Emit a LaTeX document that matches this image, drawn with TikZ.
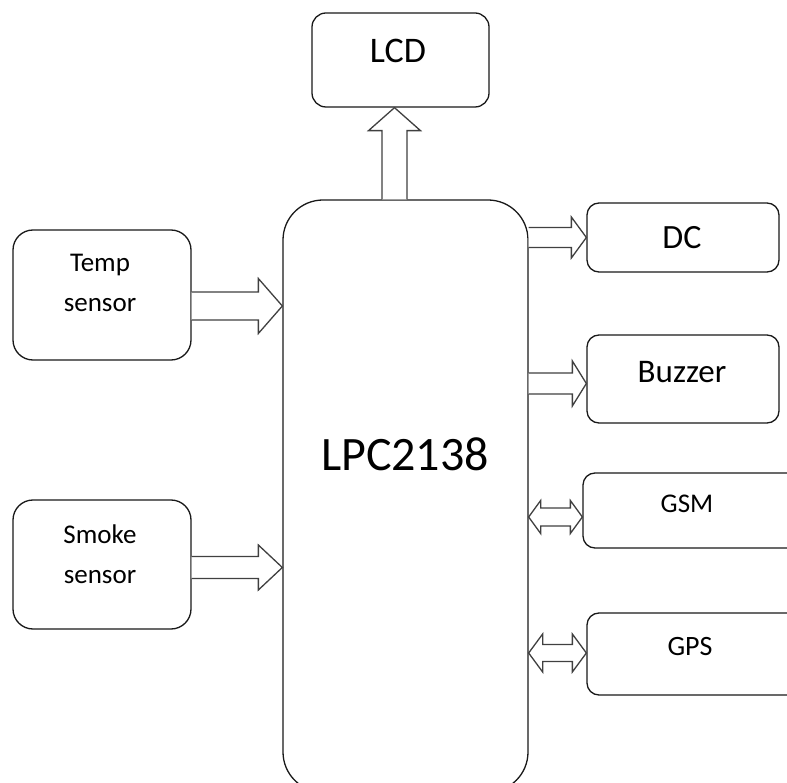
\documentclass[tikz,border=0pt]{standalone}
\usepackage{fontspec}
\setmainfont{Carlito}
\usetikzlibrary{calc}
\tikzset{
  box/.style={draw=black!90, line width=1.3pt, rectangle, inner sep=0pt},
  blk/.style={draw=black!75, line width=1.3pt, line join=miter, fill=white},
  txt/.style={inner sep=0pt, anchor=base, text=black},
}
\newcommand\fs[1]{\fontsize{#1}{#1}\selectfont}
% right block arrow: start, tip, shaft half, head half, head length
\newcommand\blkR[5]{\draw[blk] ($(#1)+(0,-#3)$) -- ($(#2)+(-#5,-#3)$) -- ($(#2)+(-#5,-#4)$) -- (#2) -- ($(#2)+(-#5,#4)$) -- ($(#2)+(-#5,#3)$) -- ($(#1)+(0,#3)$);}
% up block arrow (y axis points down)
\newcommand\blkU[5]{\draw[blk] ($(#1)+(-#3,0)$) -- ($(#2)+(-#3,#5)$) -- ($(#2)+(-#4,#5)$) -- (#2) -- ($(#2)+(#4,#5)$) -- ($(#2)+(#3,#5)$) -- ($(#1)+(#3,0)$);}
% double block arrow: left tip, right tip, shaft half, head half, head length
\newcommand\blkLR[5]{\draw[blk] (#1) -- ($(#1)+(#5,-#4)$) -- ($(#1)+(#5,-#3)$) -- ($(#2)+(-#5,-#3)$) -- ($(#2)+(-#5,-#4)$) -- (#2) -- ($(#2)+(-#5,#4)$) -- ($(#2)+(-#5,#3)$) -- ($(#1)+(#5,#3)$) -- ($(#1)+(#5,#4)$) -- cycle;}
\begin{document}
\begin{tikzpicture}[x=1pt,y=-1pt]
\useasboundingbox (0,0) rectangle (787,783);
% boxes
\node[box, rounded corners=14pt, minimum width=177pt, minimum height=94pt] (lcd) at (400.5,60) {};
\node[box, rounded corners=40pt, minimum width=245pt, minimum height=592pt] (main) at (405.5,496) {};
\node[box, rounded corners=20pt, minimum width=178pt, minimum height=130pt] (temp) at (102,295) {};
\node[box, rounded corners=20pt, minimum width=178pt, minimum height=129pt] (smoke) at (102,564.5) {};
\node[box, rounded corners=12pt, minimum width=192pt, minimum height=69pt] (dc) at (683,237.5) {};
\node[box, rounded corners=12pt, minimum width=192pt, minimum height=88pt] (buz) at (683,379) {};
\node[box, rounded corners=12pt, minimum width=217pt, minimum height=75pt] (gsm) at (691.5,510.5) {};
\node[box, rounded corners=12pt, minimum width=213pt, minimum height=82pt] (gps) at (693.5,654) {};
% texts
\node[txt, font=\fs{36}] (lcdt) at (398,63) {LCD};
\node[txt, font=\fs{48}] (maint) at (405,470) {LPC2138};
\node[txt, font=\fs{27}] (tempt1) at (100,272) {Temp};
\node[txt, font=\fs{27}] (tempt2) at (100,312) {sensor};
\node[txt, font=\fs{27}] (smoket1) at (100,543) {Smoke};
\node[txt, font=\fs{27}] (smoket2) at (100,583) {sensor};
\node[txt, font=\fs{34}] (dct) at (682,249) {DC};
\node[txt, font=\fs{33}] (buzt) at (682,382) {Buzzer};
\node[txt, font=\fs{27}] (gsmt) at (687,512) {GSM};
\node[txt, font=\fs{28}] (gpst) at (690,655) {GPS};
% connector end points
\coordinate (lcdS) at ($(main.north)+(-11,0)$);
\coordinate (lcdT) at (lcdS |- lcd.south);
\coordinate (tempS) at ($(temp.east)+(0,11)$);
\coordinate (tempT) at (main.west |- tempS);
\coordinate (smokeS) at ($(smoke.east)+(0,3)$);
\coordinate (smokeT) at (main.west |- smokeS);
\coordinate (dcS) at (main.east |- dc.west);
\coordinate (buzT) at ($(buz.west)+(0,4.5)$);
\coordinate (buzS) at (main.east |- buzT);
\coordinate (gsmT) at ($(gsm.west)+(0,6.5)$);
\coordinate (gsmS) at (main.east |- gsmT);
\coordinate (gpsT) at ($(gps.west)+(0,-1)$);
\coordinate (gpsS) at (main.east |- gpsT);
% connectors
\blkU{lcdS}{lcdT}{12.5}{26}{23}
\blkR{tempS}{tempT}{14}{27.5}{24}
\blkR{smokeS}{smokeT}{11}{22.5}{24}
\blkR{dcS}{dc.west}{10}{20.5}{15}
\blkR{buzS}{buzT}{10.5}{22.5}{14}
\blkLR{gsmS}{gsmT}{9}{16.5}{12}
\blkLR{gpsS}{gpsT}{8.5}{19}{14}
\end{tikzpicture}
\end{document}
